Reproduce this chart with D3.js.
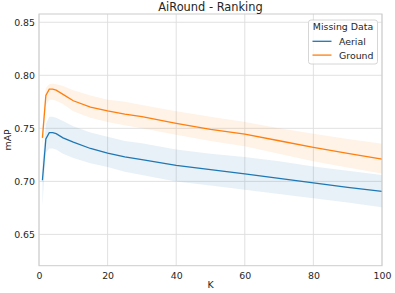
<!DOCTYPE html>
<html>
<head>
  <meta charset="UTF-8">
  <title>AiRound - Ranking</title>
  <script src="https://cdn.jsdelivr.net/npm/d3@7"></script>
  <style>
    body { margin: 0; background: #fff; }
    text { font-family: "DejaVu Sans", sans-serif; fill: #262626; }
  </style>
</head>
<body>
<div id="chart"></div>
<script>
  // K values
  var kValues = [1, 2, 3, 4, 5, 7, 10, 15, 20, 25, 30, 40, 50, 60, 70, 80, 90, 100];

  var aerialMean  = [0.701, 0.740, 0.746, 0.746, 0.745, 0.741, 0.737, 0.731, 0.7267, 0.723, 0.7205, 0.715, 0.711, 0.707, 0.7028, 0.6985, 0.6944, 0.6905];
  var aerialUpper = [0.718, 0.754, 0.761, 0.761, 0.760, 0.757, 0.752, 0.746, 0.742, 0.738, 0.736, 0.730, 0.726, 0.723, 0.719, 0.714, 0.710, 0.706];
  var aerialLower = [0.677, 0.727, 0.731, 0.731, 0.730, 0.726, 0.722, 0.717, 0.7135, 0.709, 0.706, 0.700, 0.696, 0.692, 0.688, 0.684, 0.680, 0.6755];

  var groundMean  = [0.741, 0.781, 0.787, 0.787, 0.786, 0.782, 0.776, 0.770, 0.7665, 0.7635, 0.761, 0.7547, 0.749, 0.7446, 0.7383, 0.732, 0.7264, 0.721];
  var groundUpper = [0.751, 0.788, 0.7915, 0.792, 0.7915, 0.790, 0.786, 0.781, 0.777, 0.775, 0.772, 0.766, 0.761, 0.756, 0.750, 0.745, 0.740, 0.7355];
  var groundLower = [0.731, 0.772, 0.777, 0.777, 0.776, 0.773, 0.766, 0.760, 0.756, 0.753, 0.750, 0.744, 0.738, 0.733, 0.726, 0.719, 0.713, 0.7075];

  var xTicks = [0, 20, 40, 60, 80, 100];
  var yTicks = [0.65, 0.70, 0.75, 0.80, 0.85];

  var seriesNames = ["Aerial", "Ground"];
  var seriesColors = ["#1f77b4", "#ff7f0e"];

  var series = [
    { name: seriesNames[0], color: seriesColors[0], mean: aerialMean, lo: aerialLower, hi: aerialUpper },
    { name: seriesNames[1], color: seriesColors[1], mean: groundMean, lo: groundLower, hi: groundUpper }
  ];

  var width = 395, height = 293;
  var plot = { left: 39, right: 382, top: 14, bottom: 265.7 };

  var svg = d3.select('#chart')
    .append('svg')
    .attr('width', width)
    .attr('height', height);

  var x = d3.scaleLinear().domain([0, 100]).range([plot.left, plot.right]);
  var y = d3.scaleLinear().domain([0.6205, 0.8578]).range([plot.bottom, plot.top]);

  // grid
  svg.append('g').selectAll('line')
    .data(xTicks)
    .enter().append('line')
    .attr('x1', d => x(d)).attr('x2', d => x(d))
    .attr('y1', plot.top).attr('y2', plot.bottom)
    .attr('stroke', '#dedede').attr('stroke-width', 0.9);

  svg.append('g').selectAll('line')
    .data(yTicks)
    .enter().append('line')
    .attr('x1', plot.left).attr('x2', plot.right)
    .attr('y1', d => y(d)).attr('y2', d => y(d))
    .attr('stroke', '#dedede').attr('stroke-width', 0.9);

  // bands + lines
  var area = d3.area()
    .x((d, i) => x(kValues[i]))
    .y0(d => y(d[0]))
    .y1(d => y(d[1]));

  var line = d3.line()
    .x((d, i) => x(kValues[i]))
    .y(d => y(d));

  series.forEach(function (s) {
    var band = s.lo.map((v, i) => [v, s.hi[i]]);
    svg.append('path')
      .datum(band)
      .attr('d', area)
      .attr('fill', s.color)
      .attr('fill-opacity', 0.1);
  });

  series.forEach(function (s) {
    svg.append('path')
      .datum(s.mean)
      .attr('d', line)
      .attr('fill', 'none')
      .attr('stroke', s.color)
      .attr('stroke-width', 1.3);
  });

  // frame
  svg.append('rect')
    .attr('x', plot.left).attr('y', plot.top)
    .attr('width', plot.right - plot.left).attr('height', plot.bottom - plot.top)
    .attr('fill', 'none')
    .attr('stroke', '#cccccc')
    .attr('stroke-width', 1);

  // axes (labels only, no tick marks)
  var xAxis = svg.append('g')
    .attr('transform', 'translate(0,' + plot.bottom + ')')
    .call(d3.axisBottom(x).tickValues(xTicks).tickSize(0).tickPadding(7).tickFormat(d3.format('d')));
  var yAxis = svg.append('g')
    .attr('transform', 'translate(' + plot.left + ',0)')
    .call(d3.axisLeft(y).tickValues(yTicks).tickSize(0).tickPadding(4).tickFormat(d3.format('.2f')));

  [xAxis, yAxis].forEach(function (g) {
    g.select('.domain').remove();
    g.selectAll('text')
      .style('font-family', '"DejaVu Sans", sans-serif')
      .style('font-size', '9.4px')
      .attr('fill', '#262626');
  });

  // titles
  svg.append('text')
    .attr('x', (plot.left + plot.right) / 2).attr('y', 10.5)
    .attr('text-anchor', 'middle')
    .style('font-size', '11.4px')
    .text('AiRound - Ranking');

  svg.append('text')
    .attr('x', (plot.left + plot.right) / 2).attr('y', 288)
    .attr('text-anchor', 'middle')
    .style('font-size', '9.4px')
    .text('K');

  svg.append('text')
    .attr('transform', 'translate(11,' + ((plot.top + plot.bottom) / 2) + ') rotate(-90)')
    .attr('text-anchor', 'middle')
    .style('font-size', '9.4px')
    .text('mAP');

  // legend
  var lg = svg.append('g');
  lg.append('rect')
    .attr('x', 308.5).attr('y', 20)
    .attr('width', 69).attr('height', 44)
    .attr('rx', 2.5)
    .attr('fill', '#fff').attr('fill-opacity', 0.8)
    .attr('stroke', '#cccccc').attr('stroke-width', 0.8);
  lg.append('text')
    .attr('x', 343).attr('y', 30)
    .attr('text-anchor', 'middle')
    .style('font-size', '9.4px')
    .text('Missing Data');

  var items = lg.selectAll('g.item')
    .data(series)
    .enter().append('g')
    .attr('transform', (d, i) => 'translate(0,' + (41.3 + i * 13.8) + ')');
  items.append('line')
    .attr('x1', 312.5).attr('x2', 331.5)
    .attr('stroke', d => d.color)
    .attr('stroke-width', 1.3);
  items.append('text')
    .attr('x', 339).attr('y', 3.4)
    .style('font-size', '9.4px')
    .text(d => d.name);
</script>
</body>
</html>
